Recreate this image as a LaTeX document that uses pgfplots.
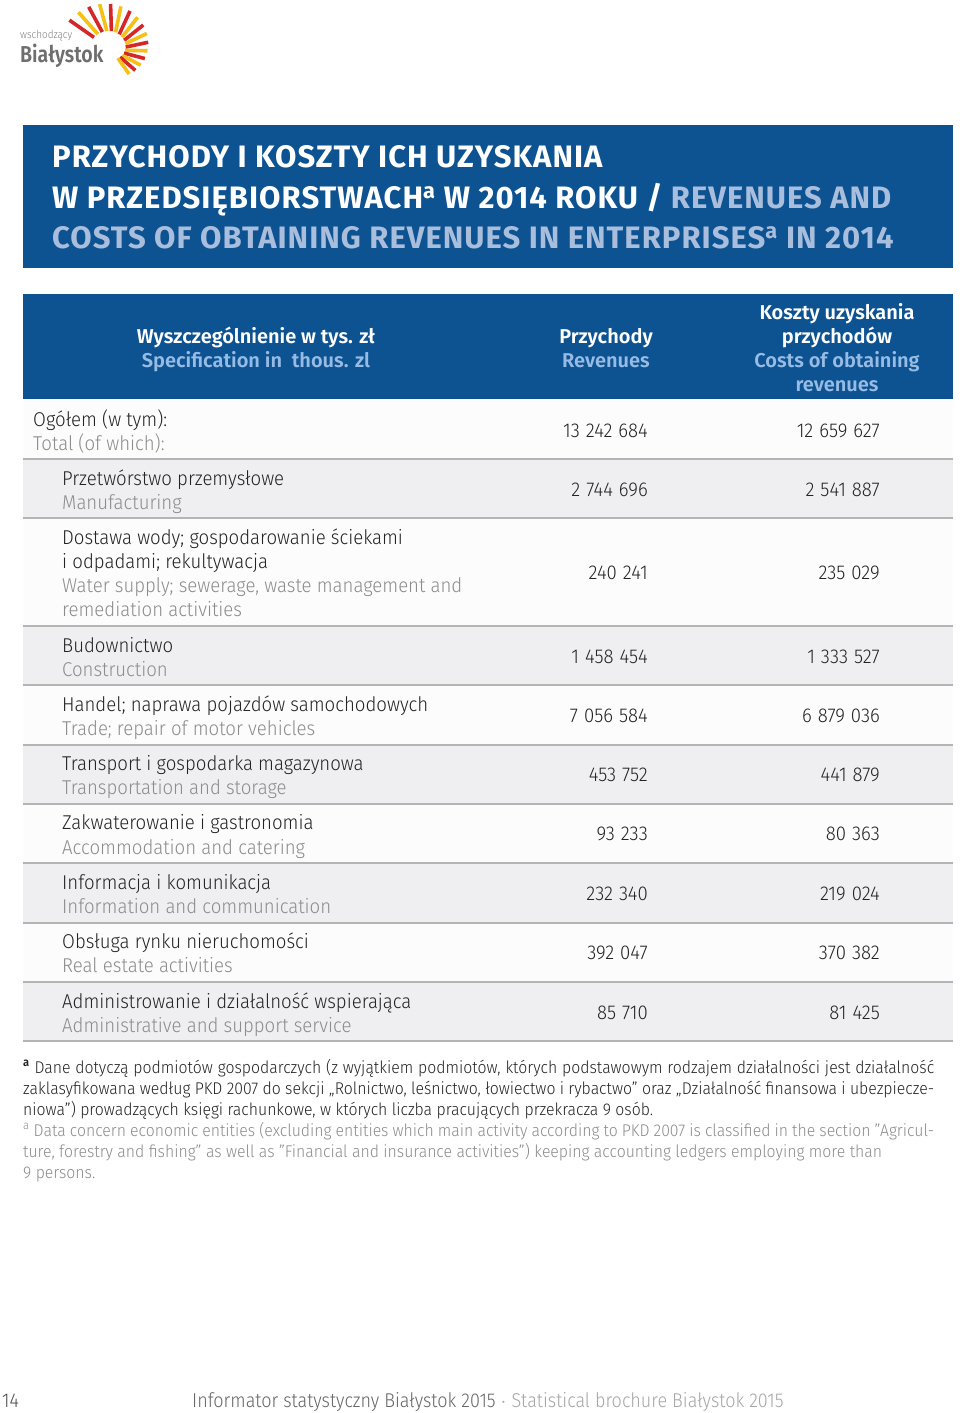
\documentclass[border=0pt]{standalone}
\usepackage{fontspec}
\setmainfont{Fira Sans}[UprightFont={* Light}, BoldFont={* SemiBold}, FakeStretch=0.93]
\newfontfamily\titlefont{Fira Sans}[UprightFont={* Bold}, LetterSpace=3.3]
\newfontfamily\headfont{Fira Sans}[UprightFont={* SemiBold}]
\newfontfamily\footfont{Fira Sans}[UprightFont={* Light}, FakeStretch=0.90]
\newfontfamily\logofont{Fira Sans}[UprightFont={* SemiBold}]
\usepackage{graphicx}
\usepackage{pgfplots}
\usepackage{pgfplotstable}
\pgfplotsset{compat=1.18}

\definecolor{tblue}{RGB}{13,82,145}
\definecolor{tlblue}{RGB}{168,190,220}
\definecolor{hlblue}{RGB}{150,187,228}
\definecolor{rowgray}{RGB}{239,239,241}
\definecolor{rowwhite}{RGB}{252,252,252}
\definecolor{sepgray}{RGB}{180,180,180}
\definecolor{txtdark}{RGB}{35,35,35}
\definecolor{txtgray}{RGB}{140,140,140}
\definecolor{logored}{RGB}{213,38,40}
\definecolor{logoyel}{RGB}{246,192,22}
\definecolor{logogray}{RGB}{110,110,110}

\pgfplotstableread{
y    rev      cost
431  13242684 12659627
490  2744696  2541887
573  240241   235029
657  1458454  1333527
716  7056584  6879036
775  453752   441879
834  93233    80363
894  232340   219024
953  392047   370382
1013 85710    81425
}\datatab

\newcommand{\bodyfont}{\fontsize{20}{24}\selectfont}
\newcommand{\Lp}[3]{\node[anchor=base west, inner sep=0pt, text=txtdark, font=\bodyfont] at (#1,#2) {#3};}
\newcommand{\Le}[3]{\node[anchor=base west, inner sep=0pt, text=txtgray, font=\bodyfont] at (#1,#2) {#3};}
\newcommand{\Hd}[4]{\node[anchor=base, inner sep=0pt, text=#4, font=\headfont\fontsize{20}{24}\selectfont] at (#1,#2) {#3};}
\newcommand{\Fn}[4]{\node[anchor=base west, inner sep=0pt, text=#3, font=\fontsize{17}{21}\selectfont] at (#1,#2) {#4};}

\begin{document}
\begin{tikzpicture}
\begin{axis}[
  width=960pt, height=1413pt, scale only axis,
  xmin=0, xmax=960, ymin=0, ymax=1413, y dir=reverse,
  hide axis, clip=false,
]
% background
\fill[white] (0,0) rectangle (960,1413);
% title box
\fill[tblue] (23,125) rectangle (953,268);
\node[anchor=base west, inner sep=0pt, text=white, font=\titlefont\fontsize{31}{35}\selectfont] at (52,167) {PRZYCHODY I KOSZTY ICH UZYSKANIA};
\node[anchor=base west, inner sep=0pt, text=white, font=\titlefont\fontsize{31}{35}\selectfont] at (52,208) {W PRZEDSIĘBIORSTWACH\textsuperscript{a} W 2014 ROKU / \textcolor{tlblue}{REVENUES AND}};
\node[anchor=base west, inner sep=0pt, text=tlblue, font=\titlefont\fontsize{31}{35}\selectfont] at (52,248) {COSTS OF OBTAINING REVENUES IN ENTERPRISES\textsuperscript{a} IN 2014};
% header box
\fill[tblue] (23,294) rectangle (953,399);
\Hd{256}{343}{Wyszczególnienie w tys. zł}{white}
\Hd{256}{367}{Specification in\ \ thous. zl}{hlblue}
\Hd{606}{343}{Przychody}{white}
\Hd{606}{367}{Revenues}{hlblue}
\Hd{837}{319}{Koszty uzyskania}{white}
\Hd{837}{343}{przychodów}{white}
\Hd{837}{367}{Costs of obtaining}{hlblue}
\Hd{837}{391}{revenues}{hlblue}
% row backgrounds
\fill[rowwhite] (23,399) rectangle (953,459);
\fill[rowgray]  (23,459) rectangle (953,518);
\fill[rowwhite] (23,518) rectangle (953,626);
\fill[rowgray]  (23,626) rectangle (953,685);
\fill[rowwhite] (23,685) rectangle (953,745);
\fill[rowgray]  (23,745) rectangle (953,804);
\fill[rowwhite] (23,804) rectangle (953,863);
\fill[rowgray]  (23,863) rectangle (953,923);
\fill[rowwhite] (23,923) rectangle (953,982);
\fill[rowgray]  (23,982) rectangle (953,1041);
% separators
\foreach \yy in {459,518,626,685,745,804,863,923,982,1041}{
  \edef\tmp{\noexpand\draw[sepgray, line width=1.6pt] (23,\yy) -- (953,\yy);}\tmp
}
% row labels
\Lp{33}{426}{Ogółem (w tym):}
\Le{33}{450}{Total (of which):}
\Lp{62}{485}{Przetwórstwo przemysłowe}
\Le{62}{509}{Manufacturing}
\Lp{62}{544}{Dostawa wody; gospodarowanie ściekami}
\Lp{62}{568}{i odpadami; rekultywacja}
\Le{62}{592}{Water supply; sewerage, waste management and}
\Le{62}{616}{remediation activities}
\Lp{62}{652}{Budownictwo}
\Le{62}{676}{Construction}
\Lp{62}{711}{Handel; naprawa pojazdów samochodowych}
\Le{62}{735}{Trade; repair of motor vehicles}
\Lp{62}{770}{Transport i gospodarka magazynowa}
\Le{62}{794}{Transportation and storage}
\Lp{62}{829}{Zakwaterowanie i gastronomia}
\Le{62}{854}{Accommodation and catering}
\Lp{62}{889}{Informacja i komunikacja}
\Le{62}{913}{Information and communication}
\Lp{62}{948}{Obsługa rynku nieruchomości}
\Le{62}{972}{Real estate activities}
\Lp{62}{1008}{Administrowanie i działalność wspierająca}
\Le{62}{1032}{Administrative and support service}
% values
\addplot[only marks, mark=none, point meta=explicit symbolic,
  nodes near coords={\pgfmathprintnumber[fixed, precision=0, 1000 sep={\hspace{0.3em}}, assume math mode=true]{\pgfplotspointmeta}},
  nodes near coords style={anchor=east, inner sep=0pt, text=txtdark, font=\bodyfont}]
  table[x expr=648, y=y, meta=rev] {\datatab};
\addplot[only marks, mark=none, point meta=explicit symbolic,
  nodes near coords={\pgfmathprintnumber[fixed, precision=0, 1000 sep={\hspace{0.3em}}, assume math mode=true]{\pgfplotspointmeta}},
  nodes near coords style={anchor=east, inner sep=0pt, text=txtdark, font=\bodyfont}]
  table[x expr=880, y=y, meta=cost] {\datatab};
% footnotes
\Fn{23}{1073}{txtdark}{\makebox[911pt][s]{\textbf{\textsuperscript{a}} Dane dotyczą podmiotów gospodarczych (z wyjątkiem podmiotów, których podstawowym rodzajem działalności jest działalność}}
\Fn{23}{1094}{txtdark}{\makebox[911pt][s]{zaklasyfikowana według PKD 2007 do sekcji „Rolnictwo, leśnictwo, łowiectwo i rybactwo” oraz „Działalność finansowa i ubezpiecze-}}
\Fn{23}{1115}{txtdark}{niowa”) prowadzących księgi rachunkowe, w których liczba pracujących przekracza 9 osób.}
\Fn{23}{1136}{txtgray}{\makebox[911pt][s]{\textsuperscript{a} Data concern economic entities (excluding entities which main activity according to PKD 2007 is classified in the section ”Agricul-}}
\Fn{23}{1157}{txtgray}{ture, forestry and fishing” as well as ”Financial and insurance activities”) keeping accounting ledgers employing more than}
\Fn{23}{1178}{txtgray}{9 persons.}
% footer
\node[anchor=base west, inner sep=0pt, text=black!70, font=\footfont\fontsize{20}{24}\selectfont] at (2,1407) {14};
\node[anchor=base west, inner sep=0pt, font=\footfont\fontsize{20}{24}\selectfont] at (192,1407) {\textcolor{black!60}{Informator statystyczny Białystok 2015} \textcolor{black!35}{$\cdot$ Statistical brochure Białystok 2015}};
% logo text
\node[anchor=base west, inner sep=0pt, text=black!50, font=\footfont\fontsize{11}{13}\selectfont] at (20,39) {wschodzący};
\node[anchor=base west, inner sep=0pt, text=logogray, font=\logofont\fontsize{23}{26}\selectfont] at (20,63) {\scalebox{0.85}[1]{Białystok}};
\end{axis}
% logo rays (decorative)
\begin{scope}[x=1pt, y=-1pt, shift={(0pt,1413pt)}]
\foreach \i in {0,...,15}{
  \pgfmathsetmacro{\ang}{145-\i*13.3}
  \pgfmathsetmacro{\ro}{52-\i*1.5}
  \pgfmathsetmacro{\ri}{22-\i*0.8}
  \pgfmathtruncatemacro{\odd}{mod(\i,2)}
  \ifnum\odd=0 \def\rc{logored}\else\def\rc{logoyel}\fi
  \draw[\rc, line width=3.6pt] ({112+\ri*cos(\ang)},{50-\ri*sin(\ang)}) -- ({112+\ro*cos(\ang)},{50-\ro*sin(\ang)});
}
\end{scope}
\end{tikzpicture}
\end{document}
